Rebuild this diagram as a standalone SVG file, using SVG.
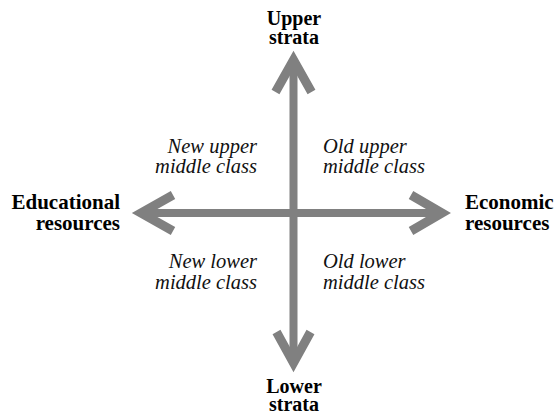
<svg xmlns="http://www.w3.org/2000/svg" width="555" height="415" viewBox="0 0 555 415">
<style>
.ax{stroke:#808080;stroke-width:8;fill:none;stroke-linecap:butt}
.hd{stroke:#808080;stroke-width:9;fill:none;stroke-linecap:butt;stroke-linejoin:miter;stroke-miterlimit:10}
.b{font-family:"Liberation Serif","Times New Roman",serif;font-weight:bold;font-size:21px;fill:#000}
.bv{font-size:20px}
.i{font-family:"Liberation Serif","Times New Roman",serif;font-style:italic;font-size:20.5px;fill:#111}
</style>
<rect width="555" height="415" fill="#fff"/>
<g id="connectors">
<line class="ax" x1="293.5" y1="62" x2="293.5" y2="361"/>
<line class="ax" x1="143" y1="213" x2="440" y2="213"/>
<polyline class="hd" points="275.5,92 293.5,60 311.5,92"/>
<polyline class="hd" points="276.5,332 293.5,363 310.5,332"/>
<polyline class="hd" points="173,195 141,213 173,231"/>
<polyline class="hd" points="411,195 442,213 411,231"/>
</g>
<g id="upper"><text class="b bv" x="294" y="25" text-anchor="middle">Upper</text><text class="b bv" x="294" y="44" text-anchor="middle">strata</text></g>
<g id="lower"><text class="b bv" x="294" y="393" text-anchor="middle">Lower</text><text class="b bv" x="294" y="411" text-anchor="middle">strata</text></g>
<g id="educational"><text class="b" x="120" y="209" text-anchor="end">Educational</text><text class="b" x="120" y="230" text-anchor="end">resources</text></g>
<g id="economic"><text class="b" x="465" y="209">Economic</text><text class="b" x="465" y="230">resources</text></g>
<g id="new-upper"><text class="i" x="257" y="153" text-anchor="end">New upper</text><text class="i" x="257" y="173" text-anchor="end">middle class</text></g>
<g id="old-upper"><text class="i" x="323" y="153">Old upper</text><text class="i" x="323" y="173">middle class</text></g>
<g id="new-lower"><text class="i" x="257" y="268" text-anchor="end">New lower</text><text class="i" x="257" y="289" text-anchor="end">middle class</text></g>
<g id="old-lower"><text class="i" x="323" y="268">Old lower</text><text class="i" x="323" y="289">middle class</text></g>
</svg>
